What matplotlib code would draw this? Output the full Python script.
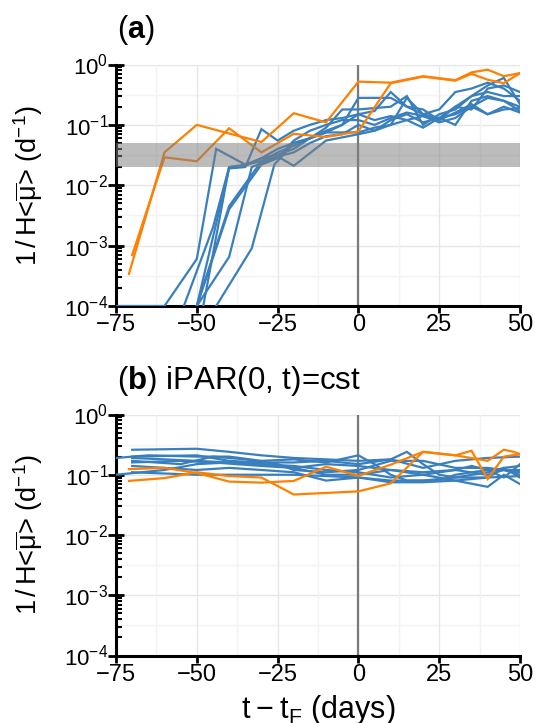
import numpy as np
import matplotlib
matplotlib.use("Agg")
import matplotlib.pyplot as plt
from matplotlib.ticker import LogLocator, LogFormatterMathtext, NullFormatter

plt.rcParams['font.family'] = ['Liberation Sans', 'DejaVu Sans']
plt.rcParams['mathtext.fontset'] = 'custom'
plt.rcParams['mathtext.rm'] = 'Liberation Sans'
plt.rcParams['mathtext.it'] = 'Liberation Sans:italic'
plt.rcParams['mathtext.bf'] = 'Liberation Sans:bold'

# ---------------- data: panel (a) ----------------
a_blue = [
    ([-75, -60, -50, -44, -35, -30, -25, -20, -10, 0, 5, 10, 15, 20, 25, 30, 35, 40, 45, 50],
     [1e-4, 1e-4, 6e-4, 0.04, 0.022, 0.025, 0.03, 0.021, 0.055, 0.07, 0.08, 0.1, 0.12, 0.14, 0.11, 0.13, 0.2, 0.15, 0.2, 0.16]),
    ([-54, -45, -40, -35, -30, -25, -20, -15, -10, 0, 5, 10, 15, 20, 25, 30, 35, 40, 45, 50],
     [1e-4, 0.002, 0.02, 0.021, 0.028, 0.04, 0.05, 0.06, 0.075, 0.075, 0.09, 0.1, 0.28, 0.15, 0.13, 0.1, 0.25, 0.3, 0.25, 0.2]),
    ([-50, -40, -35, -30, -25, -20, -15, -10, -5, 0, 5, 10, 15, 20, 25, 30, 35, 40, 45, 50],
     [1e-4, 0.019, 0.02, 0.085, 0.055, 0.08, 0.1, 0.12, 0.13, 0.15, 0.12, 0.14, 0.12, 0.09, 0.13, 0.2, 0.3, 0.45, 0.6, 0.22]),
    ([-50, -40, -30, -25, -20, -15, -10, -5, 0, 5, 10, 15, 20, 25, 30, 35, 40, 45, 50],
     [1e-4, 0.0045, 0.025, 0.035, 0.045, 0.06, 0.09, 0.18, 0.18, 0.19, 0.2, 0.3, 0.1, 0.15, 0.18, 0.3, 0.35, 0.3, 0.3]),
    ([-50, -40, -33, -25, -20, -15, -10, -5, 0, 5, 10, 15, 20, 25, 30, 35, 40, 45, 50],
     [1e-4, 6.5e-4, 0.02, 0.03, 0.035, 0.05, 0.065, 0.07, 0.1, 0.08, 0.12, 0.15, 0.11, 0.13, 0.15, 0.2, 0.28, 0.25, 0.17]),
    ([-44, -33, -26, -20, -15, -10, -5, 0, 10, 15, 20, 25, 30, 35, 40, 45, 50],
     [1e-4, 9e-4, 0.022, 0.05, 0.06, 0.075, 0.1, 0.28, 0.28, 0.2, 0.15, 0.18, 0.35, 0.4, 0.5, 0.4, 0.25]),
    ([-50, -40, -30, -25, -20, -15, -10, -5, 0, 5, 10, 15, 20, 25, 30, 35, 40, 45, 50],
     [1e-4, 0.004, 0.022, 0.028, 0.055, 0.08, 0.1, 0.12, 0.12, 0.1, 0.13, 0.16, 0.14, 0.12, 0.16, 0.22, 0.15, 0.18, 0.19]),
    ([-48, -40, -35, -30, -25, -20, -15, -10, -5, 0, 5, 10, 15, 20, 25, 30, 35, 40, 45, 50],
     [1e-4, 0.02, 0.022, 0.028, 0.032, 0.04, 0.06, 0.08, 0.1, 0.15, 0.17, 0.35, 0.2, 0.18, 0.12, 0.2, 0.18, 0.4, 0.45, 0.35]),
]
a_orange = [
    ([-71, -60, -50, -40, -30, -20, -10, 0, 10, 20, 30, 35, 40, 45, 50],
     [3.4e-4, 0.035, 0.1, 0.072, 0.052, 0.156, 0.11, 0.52, 0.5, 0.64, 0.55, 0.74, 0.82, 0.64, 0.72]),
    ([-70, -60, -50, -40, -30, -20, -10, 0, 10, 20, 30, 35, 40, 45, 50],
     [7e-4, 0.029, 0.025, 0.088, 0.035, 0.071, 0.063, 0.078, 0.49, 0.63, 0.54, 0.7, 0.56, 0.49, 0.72]),
]

# ---------------- data: panel (b) ----------------
b_blue = [
    ([-70, -50, -40, -30, -20, -10, 0, 10, 15, 20, 25, 30, 40, 45, 50],
     [0.26, 0.27, 0.24, 0.21, 0.19, 0.18, 0.17, 0.18, 0.24, 0.15, 0.1, 0.09, 0.11, 0.13, 0.09]),
    ([-75, -65, -50, -40, -30, -20, -10, 0, 5, 10, 15, 25, 30, 40, 45, 50],
     [0.19, 0.21, 0.2, 0.2, 0.17, 0.18, 0.16, 0.21, 0.15, 0.1, 0.08, 0.08, 0.1, 0.12, 0.09, 0.15]),
    ([-70, -60, -50, -40, -30, -20, -10, 0, 10, 20, 30, 40, 45, 50],
     [0.19, 0.18, 0.17, 0.16, 0.15, 0.13, 0.15, 0.14, 0.12, 0.1, 0.12, 0.1, 0.12, 0.1]),
    ([-70, -55, -45, -35, -25, -20, -10, 0, 10, 20, 30, 40, 50],
     [0.17, 0.15, 0.2, 0.18, 0.15, 0.12, 0.11, 0.12, 0.17, 0.17, 0.13, 0.13, 0.11]),
    ([-70, -60, -50, -40, -30, -20, -10, 0, 10, 20, 30, 40, 45, 50],
     [0.14, 0.13, 0.12, 0.13, 0.12, 0.11, 0.08, 0.09, 0.075, 0.075, 0.08, 0.063, 0.1, 0.07]),
    ([-75, -60, -50, -40, -30, -20, -10, 0, 10, 20, 30, 40, 45, 50],
     [0.10, 0.12, 0.15, 0.16, 0.15, 0.14, 0.12, 0.11, 0.09, 0.1, 0.08, 0.09, 0.13, 0.14]),
    ([-70, -50, -40, -30, -20, -10, 0, 10, 20, 30, 40, 50],
     [0.11, 0.1, 0.1, 0.1, 0.1, 0.095, 0.09, 0.08, 0.08, 0.09, 0.09, 0.095]),
    ([-70, -50, -40, -30, -20, -10, 0, 10, 20, 30, 40, 50],
     [0.2, 0.21, 0.17, 0.16, 0.16, 0.17, 0.15, 0.18, 0.13, 0.17, 0.19, 0.2]),
    ([-70, -55, -45, -30, -20, -10, 0, 10, 20, 30, 35, 40, 50],
     [0.16, 0.17, 0.16, 0.14, 0.13, 0.1, 0.1, 0.12, 0.11, 0.12, 0.14, 0.12, 0.12]),
]
b_orange = [
    ([-71, -60, -50, -40, -30, -20, -10, 0, 10, 20, 30, 35, 40, 45, 50],
     [0.124, 0.13, 0.107, 0.077, 0.074, 0.079, 0.136, 0.096, 0.147, 0.24, 0.21, 0.25, 0.085, 0.2, 0.22]),
    ([-71, -60, -50, -40, -30, -20, 0, 10, 20, 30, 40, 45, 48, 50],
     [0.079, 0.088, 0.11, 0.095, 0.09, 0.047, 0.053, 0.072, 0.24, 0.21, 0.17, 0.26, 0.24, 0.22]),
]

x_ticks = [-75, -50, -25, 0, 25, 50]
band = (0.02, 0.05)

BLUE = '#3a7fbd'
ORANGE = '#ff8000'

fig = plt.figure(figsize=(5.35, 7.23), dpi=100)
W, H = 535, 723

def make_ax(top_px, bottom_px):
    left, right = 116, 520
    return fig.add_axes([left / W, 1 - bottom_px / H, (right - left) / W, (bottom_px - top_px) / H])

axa = make_ax(64.5, 306)
axb = make_ax(414.5, 655.5)

ylab = r'1$\,$/$\,$H<$\overline{\mathrm{\mu}}$> (d$^{-1}$)'

for ax, blues, oranges, shade in [(axa, a_blue, a_orange, True), (axb, b_blue, b_orange, False)]:
    ax.set_yscale('log')
    ax.set_xlim(-75, 50)
    ax.set_ylim(1e-4, 1)
    # grid
    for k in range(0, 5):
        ax.axhline(10.0 ** (-k), color='#e6e6e6', lw=1.0, zorder=0)
    for k in range(0, 4):
        ax.axhline(10.0 ** (-k - 0.5), color='#f3f3f3', lw=1.0, zorder=0)
    for xv in x_ticks:
        ax.axvline(xv, color='#e6e6e6', lw=1.0, zorder=0)
    for xv in [-62.5, -37.5, -12.5, 12.5, 37.5]:
        ax.axvline(xv, color='#f3f3f3', lw=1.0, zorder=0)
    ax.axvline(0, color='#7a7a7a', lw=1.6, zorder=1)
    for t, v in blues:
        ax.plot(t, v, color=BLUE, lw=1.6, zorder=3, solid_joinstyle='miter')
    for t, v in oranges:
        ax.plot(t, v, color=ORANGE, lw=1.6, zorder=3.5, solid_joinstyle='miter')
    if shade:
        ax.axhspan(band[0], band[1], color='#7f7f7f', alpha=0.52, lw=0, zorder=4)
    for s in ['top', 'right']:
        ax.spines[s].set_visible(False)
    for s in ['left', 'bottom']:
        ax.spines[s].set_linewidth(2.2)
        ax.spines[s].set_zorder(2.5)
    ax.set_xticks(x_ticks)
    ax.set_xticklabels(['\u221275', '\u221250', '\u221225', '0', '25', '50'])
    ax.yaxis.set_major_locator(LogLocator(base=10, numticks=10))
    ax.yaxis.set_major_formatter(LogFormatterMathtext())
    ax.yaxis.set_minor_locator(LogLocator(base=10, subs=np.arange(2, 10), numticks=20))
    ax.yaxis.set_minor_formatter(NullFormatter())
    ax.tick_params(axis='x', direction='out', length=5, width=2, labelsize=17, pad=1)
    ax.tick_params(axis='y', which='major', direction='inout', length=11, width=2, labelsize=16, pad=0)
    ax.tick_params(axis='y', which='minor', direction='in', length=4.5, width=1.5)
    ax.set_ylabel(ylab, fontsize=19.5)
    ax.yaxis.set_label_coords(-0.175, 0.5)

axb.set_xlabel('t\u2009\u2212\u2009t$_\\mathrm{F}$ (days)', fontsize=22, labelpad=5)

fig.text(117 / W, 1 - 30 / H, r'($\mathbf{a}$)', fontsize=22, va='center', ha='left')
fig.text(117 / W, 1 - 381 / H, r'($\mathbf{b}$) iPAR(0, t)=cst', fontsize=22.5, va='center', ha='left')

fig.savefig('out.png', dpi=100)
